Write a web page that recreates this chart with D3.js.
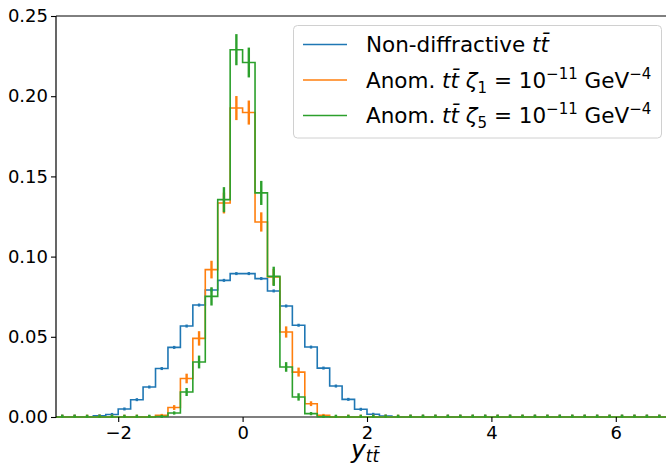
<!DOCTYPE html>
<html lang="en">
<head>
<meta charset="utf-8">
<title>y_tt distribution</title>
<script src="https://d3js.org/d3.v7.min.js"></script>
<style>
  body { margin: 0; background: white; }
  svg { font-family: "DejaVu Sans", sans-serif; }
</style>
</head>
<body>
<div id="chart"></div>
<script>
// bins of width 0.2 from -3 to 7 (lower edges)
var binLo = d3.range(50).map(function(i){ return Math.round((-3 + 0.2 * i) * 10) / 10; });
var binW = 0.2;

// Non-diffractive tt
var blueVals = [0, 0, 0.0001, 0.0007, 0.0016, 0.005, 0.0108, 0.0187, 0.0302, 0.0434,
                0.0567, 0.0698, 0.0792, 0.0852, 0.0894, 0.0894, 0.0863, 0.0786, 0.0692, 0.0572,
                0.0436, 0.0305, 0.0193, 0.011, 0.0048, 0.0017, 0.0006, 0.0001, 0, 0,
                0, 0, 0, 0, 0, 0, 0, 0, 0, 0,
                0, 0, 0, 0, 0, 0, 0, 0, 0, 0];
var blueErr = [0, 0, 0.0002, 0.0004, 0.0005, 0.0006, 0.0007, 0.0008, 0.0008, 0.0008,
               0.0008, 0.0008, 0.0008, 0.0008, 0.0008, 0.0008, 0.0008, 0.0008, 0.0008, 0.0008,
               0.0008, 0.0008, 0.0008, 0.0007, 0.0006, 0.0005, 0.0003, 0.0002, 0, 0,
               0, 0, 0, 0, 0, 0, 0, 0, 0, 0,
               0, 0, 0, 0, 0, 0, 0, 0, 0, 0];
// Anom. tt zeta_1
var orangeVals = [0, 0, 0, 0, 0, 0, 0, 0.0002, 0.001, 0.0059,
                  0.024, 0.049, 0.0919, 0.1334, 0.1926, 0.1898, 0.1216, 0.0873, 0.053, 0.028,
                  0.0083, 0.001, 0.0001, 0, 0, 0, 0, 0, 0, 0,
                  0, 0, 0, 0, 0, 0, 0, 0, 0, 0,
                  0, 0, 0, 0, 0, 0, 0, 0, 0, 0];
var orangeErr = [0, 0, 0, 0, 0, 0, 0, 0.0003, 0.0006, 0.0015,
                 0.003, 0.0045, 0.0055, 0.0065, 0.0075, 0.0075, 0.006, 0.005, 0.0035, 0.0028,
                 0.0015, 0.0006, 0.0002, 0, 0, 0, 0, 0, 0, 0,
                 0, 0, 0, 0, 0, 0, 0, 0, 0, 0,
                 0, 0, 0, 0, 0, 0, 0, 0, 0, 0];
// Anom. tt zeta_5
var greenVals = [0, 0, 0, 0, 0, 0, 0, 0, 0.0003, 0.0025,
                 0.0156, 0.0343, 0.0752, 0.1355, 0.229, 0.221, 0.1397, 0.0877, 0.0312, 0.0125,
                 0.0021, 0.0002, 0, 0, 0, 0, 0, 0, 0, 0,
                 0, 0, 0, 0, 0, 0, 0, 0, 0, 0,
                 0, 0, 0, 0, 0, 0, 0, 0, 0, 0];
var greenErr = [0, 0, 0, 0, 0, 0, 0, 0, 0.0005, 0.001,
                0.0025, 0.004, 0.0057, 0.0078, 0.0097, 0.0093, 0.0075, 0.006, 0.003, 0.0023,
                0.001, 0.0004, 0, 0, 0, 0, 0, 0, 0, 0,
                0, 0, 0, 0, 0, 0, 0, 0, 0, 0,
                0, 0, 0, 0, 0, 0, 0, 0, 0, 0];

var xTicks = [-2, 0, 2, 4, 6];
var yTicks = [0, 0.05, 0.10, 0.15, 0.20, 0.25];

var series = [
  { vals: blueVals, err: blueErr, color: "#1f77b4" },
  { vals: orangeVals, err: orangeErr, color: "#ff7f0e" },
  { vals: greenVals, err: greenErr, color: "#2ca02c" }
];

var width = 666, height = 468;
var mLeft = 56, mRight = 678, mTop = 16, mBottom = 417;

var svg = d3.select("#chart").append("svg")
  .attr("width", width).attr("height", height);

var x = d3.scaleLinear().domain([-3, 7]).range([mLeft, mRight]);
var y = d3.scaleLinear().domain([0, 0.25]).range([mBottom, mTop]);

svg.append("clipPath").attr("id", "plotclip")
  .append("rect").attr("x", mLeft).attr("y", mTop - 2)
  .attr("width", mRight - mLeft).attr("height", mBottom - mTop + 3);

var plot = svg.append("g").attr("clip-path", "url(#plotclip)");

var line = d3.line().x(function(d){ return x(d[0]); }).y(function(d){ return y(d[1]); });

// spines drawn under the markers so the zero-bin dots stay visible
svg.insert("line", "g").attr("x1", mLeft).attr("x2", width).attr("y1", mBottom).attr("y2", mBottom)
  .attr("stroke", "#000").attr("stroke-width", 1.2);

series.forEach(function(s){
  var pts = [[binLo[0], 0]];
  binLo.forEach(function(lo, i){
    pts.push([lo, s.vals[i]]);
    pts.push([lo + binW, s.vals[i]]);
  });
  pts.push([binLo[binLo.length - 1] + binW, 0]);

  plot.append("path")
    .attr("d", line(pts))
    .attr("fill", "none")
    .attr("stroke", s.color)
    .attr("stroke-width", 1.6);

  // error bars at bin centres
  plot.selectAll(null)
    .data(binLo.map(function(lo, i){ return { c: lo + binW / 2, v: s.vals[i], e: s.err[i] }; }))
    .enter().append("rect")
    .attr("x", function(d){ return x(d.c) - 1.2; })
    .attr("width", 2.4)
    .attr("y", function(d){
      var h = Math.max(3, y(d.v - d.e) - y(d.v + d.e));
      return y(d.v) - h / 2 - (d.v === 0 ? 0.8 : 0);
    })
    .attr("height", function(d){ return Math.max(3, y(d.v - d.e) - y(d.v + d.e)); })
    .attr("fill", s.color);
});

svg.append("line").attr("x1", mLeft).attr("x2", width).attr("y1", mTop).attr("y2", mTop)
  .attr("stroke", "#000").attr("stroke-width", 1);
svg.append("line").attr("x1", mLeft).attr("x2", mLeft).attr("y1", mTop).attr("y2", mBottom + 0.5)
  .attr("stroke", "#000").attr("stroke-width", 1.2);

// axes
var fmtMinus = function(v){ return String(v).replace("-", "\u2212"); };

var gx = svg.append("g").attr("transform", "translate(0," + mBottom + ")")
  .call(d3.axisBottom(x).tickValues(xTicks).tickSize(5).tickPadding(4).tickFormat(fmtMinus));
gx.select(".domain").remove();
gx.selectAll("line").attr("stroke", "#000").attr("stroke-width", 1.1);
gx.selectAll("text").attr("font-size", 18).attr("font-family", "DejaVu Sans").attr("fill", "#000");

var gy = svg.append("g").attr("transform", "translate(" + mLeft + ",0)")
  .call(d3.axisLeft(y).tickValues(yTicks).tickSize(5).tickPadding(3).tickFormat(d3.format(".2f")));
gy.select(".domain").remove();
gy.selectAll("line").attr("stroke", "#000").attr("stroke-width", 1.1);
gy.selectAll("text").attr("font-size", 18).attr("font-family", "DejaVu Sans").attr("fill", "#000");

// x label  y_{t tbar}
var xl = svg.append("text").attr("x", 351).attr("y", 458).attr("fill", "#000");
xl.append("tspan").attr("font-size", 25).attr("font-style", "italic").text("y");
xl.append("tspan").attr("font-size", 17).attr("font-style", "italic").attr("dy", 4).text("tt\u0304");

// legend
var legend = svg.append("g");
legend.append("rect")
  .attr("x", 293.5).attr("y", 25.5).attr("width", 368).attr("height", 112.5)
  .attr("rx", 4).attr("fill", "white").attr("fill-opacity", 0.8)
  .attr("stroke", "#d0d0d0").attr("stroke-width", 1);

var labels = [
  [["Non-diffractive ", "n"], ["tt\u0304", "i"]],
  [["Anom. ", "n"], ["tt\u0304 \u03B6", "i"], ["1", "sub"], [" = 10", "n"], ["\u221211", "sup"], [" GeV", "n"], ["\u22124", "sup"]],
  [["Anom. ", "n"], ["tt\u0304 \u03B6", "i"], ["5", "sub"], [" = 10", "n"], ["\u221211", "sup"], [" GeV", "n"], ["\u22124", "sup"]]
];
var rowY = [44.5, 80, 115.5];

labels.forEach(function(parts, r){
  legend.append("line")
    .attr("x1", 303).attr("x2", 347).attr("y1", rowY[r]).attr("y2", rowY[r])
    .attr("stroke", series[r].color).attr("stroke-width", 1.3);
  var t = legend.append("text").attr("x", 366).attr("y", rowY[r] + 7.5)
    .attr("font-size", 21.5).attr("fill", "#000");
  var shift = 0;
  parts.forEach(function(p){
    var ts = t.append("tspan").text(p[0]);
    var target = 0;
    if (p[1] === "i") ts.attr("font-style", "italic");
    if (p[1] === "sub") { ts.attr("font-size", 15); target = 5; }
    if (p[1] === "sup") { ts.attr("font-size", 15); target = -9; }
    if (target !== shift) { ts.attr("dy", target - shift); shift = target; }
  });
});
</script>
</body>
</html>
